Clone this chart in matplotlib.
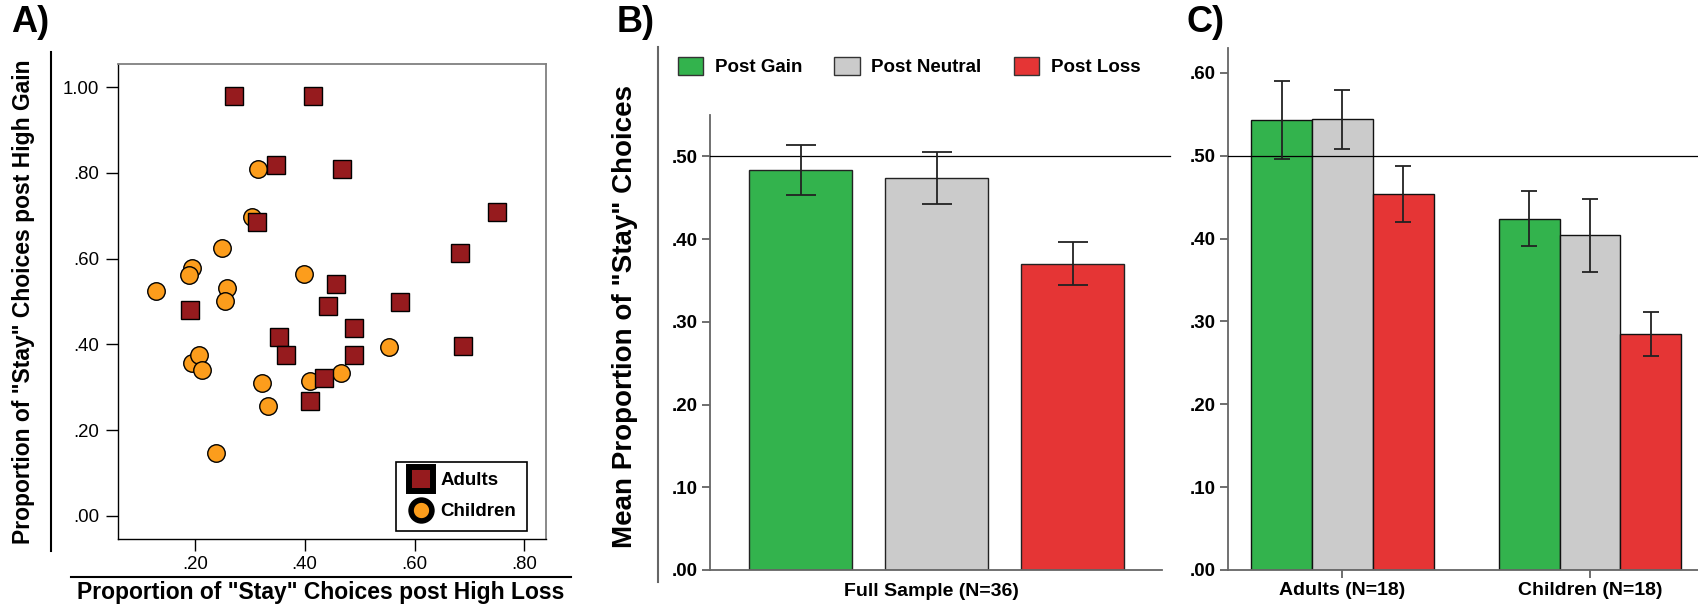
"""Stay choices after gain / neutral / loss outcomes, adults vs children."""

import matplotlib
matplotlib.use("Agg")
import matplotlib.pyplot as plt
from matplotlib.lines import Line2D
from matplotlib.patches import Patch
import numpy as np

plt.rcParams["font.family"] = ["Liberation Sans", "DejaVu Sans"]

# A) individual participants: proportion of stay choices post high loss (x) / high gain (y)
adult_loss = [0.271, 0.416, 0.348, 0.468, 0.750, 0.314, 0.682, 0.458, 0.574,
              0.192, 0.442, 0.489, 0.354, 0.366, 0.489, 0.689, 0.436, 0.409]
adult_gain = [0.979, 0.979, 0.819, 0.808, 0.709, 0.686, 0.613, 0.540, 0.500,
              0.480, 0.489, 0.438, 0.418, 0.375, 0.376, 0.396, 0.321, 0.267]
child_loss = [0.316, 0.304, 0.249, 0.195, 0.189, 0.399, 0.130, 0.258, 0.255,
              0.553, 0.195, 0.208, 0.214, 0.323, 0.467, 0.409, 0.333, 0.238]
child_gain = [0.808, 0.697, 0.625, 0.577, 0.562, 0.563, 0.524, 0.531, 0.501,
              0.395, 0.357, 0.375, 0.341, 0.311, 0.334, 0.315, 0.256, 0.147]

# B) full sample means +- SE
conditions = ["Post Gain", "Post Neutral", "Post Loss"]
full_mean = [0.484, 0.474, 0.370]
full_err = [0.030, 0.031, 0.026]

# C) by age group
groups = ["Adults (N=18)", "Children (N=18)"]
adult_mean = [0.543, 0.544, 0.454]
adult_err = [0.047, 0.036, 0.034]
child_mean = [0.424, 0.404, 0.285]
child_err = [0.033, 0.044, 0.027]

bar_colors = ["#33b34d", "#cbcbcb", "#e53535"]
adult_color = "#961b1e"
child_color = "#fc9d1c"

W, H = 1698, 608
fig = plt.figure(figsize=(W / 100, H / 100), dpi=100)


def px_box(left, top, right, bottom):
    return [left / W, 1 - bottom / H, (right - left) / W, (bottom - top) / H]


def fx(x):
    return x / W


def fy(y):
    return 1 - y / H


# ---------------- A ----------------
axA = fig.add_axes(px_box(118.3, 64, 546.4, 539))
axA.plot(child_loss, child_gain, "o", ls="none", ms=12.6, mfc=child_color, mec="black", mew=1.0)
axA.plot(adult_loss, adult_gain, "s", ls="none", ms=13.0, mfc=adult_color, mec="black", mew=1.0)
axA.set_xlim(0.061, 0.840)
axA.set_ylim(-0.054, 1.054)
axA.set_xticks([0.2, 0.4, 0.6, 0.8])
axA.set_xticklabels([".20", ".40", ".60", ".80"])
axA.set_yticks([0, 0.2, 0.4, 0.6, 0.8, 1.0])
axA.set_yticklabels([".00", ".20", ".40", ".60", ".80", "1.00"])
axA.tick_params(length=8.3, width=1, labelsize=13.4, pad=5.4)
axA.tick_params(axis="x", pad=4)
for side in ["top", "right"]:
    axA.spines[side].set_color("#808080")
    axA.spines[side].set_linewidth(1.3)
for side in ["left", "bottom"]:
    axA.spines[side].set_color("black")
    axA.spines[side].set_linewidth(1.0)

handles_a = [
    Line2D([], [], marker="s", ls="none", ms=17, mfc=adult_color, mec="black", mew=4.3, label="Adults"),
    Line2D([], [], marker="o", ls="none", ms=15, mfc=child_color, mec="black", mew=4.0, label="Children"),
]
legA = axA.legend(handles=handles_a, loc="lower right", bbox_to_anchor=(fx(526.7), fy(530.7)),
                  bbox_transform=fig.transFigure, borderaxespad=0, prop=dict(weight="bold", size=13.5),
                  frameon=True, fancybox=False, edgecolor="black", framealpha=1,
                  handletextpad=0.25, labelspacing=0.75, borderpad=0.55, handlelength=1.6)
legA.get_frame().set_linewidth(1.2)

fig.text(fx(24), fy(302), 'Proportion of "Stay" Choices post High Gain', rotation=90,
         ha="center", va="center", fontsize=16.5, weight="bold")
fig.text(fx(321), fy(593), 'Proportion of "Stay" Choices post High Loss',
         ha="center", va="center", fontsize=16.5, weight="bold")
fig.add_artist(Line2D([fx(51), fx(51)], [fy(52.3), fy(550.6)], color="black", lw=1.5))
fig.add_artist(Line2D([fx(71), fx(571)], [fy(576.7), fy(576.7)], color="black", lw=1.5))

# ---------------- B ----------------
axB = fig.add_axes(px_box(709.5, 115.1, 1162.4, 570))
xb = np.arange(len(conditions))
axB.bar(xb, full_mean, width=0.754, color=bar_colors, edgecolor="#222222", linewidth=1, zorder=2)
axB.errorbar(xb, full_mean, yerr=full_err, fmt="none", ecolor="#222222", elinewidth=1.3,
             capsize=10.8, capthick=1.3, zorder=4)
axB.axhline(0.5, xmin=0, xmax=1.017, color="black", lw=0.9, clip_on=False, zorder=3)
axB.set_xlim(-0.669, 2.659)
axB.set_ylim(0, 0.55)
axB.set_xticks([])
axB.set_yticks(np.arange(0, 0.51, 0.1))
axB.set_yticklabels([".00", ".10", ".20", ".30", ".40", ".50"])

# ---------------- C ----------------
axC = fig.add_axes(px_box(1227.6, 48.1, 1698, 570))
xc = np.arange(len(groups))
w = 0.2457
for i in range(3):
    vals = [adult_mean[i], child_mean[i]]
    errs = [adult_err[i], child_err[i]]
    pos = xc + (i - 1) * w
    axC.bar(pos, vals, width=w, color=bar_colors[i], edgecolor="#111111", linewidth=1, zorder=2)
    axC.errorbar(pos, vals, yerr=errs, fmt="none", ecolor="#222222", elinewidth=1.3,
                 capsize=5.6, capthick=1.3, zorder=4)
axC.axhline(0.5, color="black", lw=0.9, zorder=3)
axC.set_xlim(-0.464, 1.436)
axC.set_ylim(0, 0.63)
axC.set_xticks(xc)
axC.set_xticklabels(groups)
axC.set_yticks(np.arange(0, 0.61, 0.1))
axC.set_yticklabels([".00", ".10", ".20", ".30", ".40", ".50", ".60"])

for ax in [axB, axC]:
    for side in ["top", "right"]:
        ax.spines[side].set_visible(False)
    for side in ["left", "bottom"]:
        ax.spines[side].set_color("#666666")
        ax.spines[side].set_linewidth(1.3)
    ax.tick_params(length=5.8, width=1.2, color="#555555", labelsize=13.5, pad=3)
    for lab in ax.get_yticklabels() + ax.get_xticklabels():
        lab.set_fontweight("bold")
axC.tick_params(axis="x", labelsize=14, pad=3)

handles_b = [Patch(facecolor=c, edgecolor="#333333", linewidth=1, label=l)
             for c, l in zip(bar_colors, conditions)]
fig.legend(handles=handles_b, loc="center left", bbox_to_anchor=(fx(677.7), fy(66.5)),
           ncol=3, frameon=False, borderpad=0, borderaxespad=0, handlelength=1.365,
           handleheight=1.15, handletextpad=0.62, columnspacing=1.7,
           prop=dict(weight="bold", size=13.5))

fig.text(fx(625.5), fy(317), 'Mean Proportion of "Stay" Choices', rotation=90,
         ha="center", va="center", fontsize=20, weight="bold")
fig.text(fx(931.4), fy(591), "Full Sample (N=36)", ha="center", va="center",
         fontsize=14, weight="bold")
fig.add_artist(Line2D([fx(658), fx(658)], [fy(46.5), fy(581.6)], color="#666666", lw=1.5))

# panel letters
for letter, left in [("A)", 10.7), ("B)", 617), ("C)", 1186)]:
    fig.text(fx(left), fy(5), letter, ha="left", va="top", fontsize=26, weight="bold")

fig.savefig("out.png", dpi=100)
